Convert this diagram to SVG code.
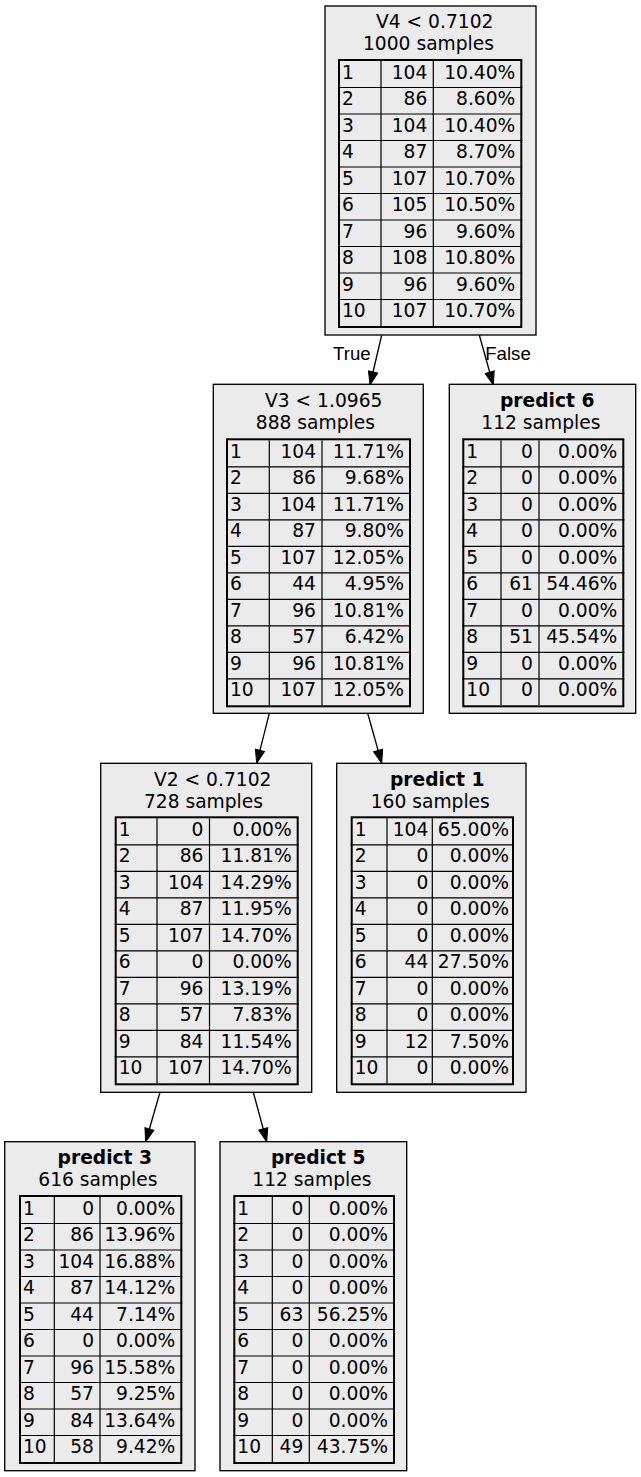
<svg xmlns="http://www.w3.org/2000/svg" width="641" height="1477" viewBox="0 0 641 1477">
<style>
.bg{fill:#ebebeb;stroke:#000;stroke-width:1.33}
.tb{fill:none;stroke:#000;stroke-width:2}
.gl{stroke:#000;stroke-width:1.2}
text{font-family:"DejaVu Sans",sans-serif;font-size:18.67px;fill:#000}
.c{text-anchor:middle}
.r{text-anchor:end}
.b{font-weight:bold}
.el{font-family:"Liberation Sans",Arial,sans-serif}
.e{stroke:#000;stroke-width:1.33;fill:none;marker-end:url(#ah)}
</style>
<defs>
<marker id="ah" markerUnits="userSpaceOnUse" markerWidth="14" markerHeight="10" refX="13.3" refY="4.67" orient="auto" overflow="visible">
<path d="M0,0 L13.3,4.67 L0,9.33 z" fill="#000" stroke="#000" stroke-width="1"/>
</marker>
</defs>
<g id="edges">
<line class="e" x1="381.7" y1="335" x2="370" y2="385"/>
<text class="el" x="333" y="360">True</text>
<line class="e" x1="479.3" y1="335" x2="493.3" y2="385"/>
<text class="el" x="485.2" y="360">False</text>
<line class="e" x1="269.3" y1="713.3" x2="256.7" y2="763.3"/>
<line class="e" x1="367.7" y1="713.3" x2="381.7" y2="763.3"/>
<line class="e" x1="160" y1="1092.3" x2="145.7" y2="1141.7"/>
<line class="e" x1="253.3" y1="1092.3" x2="266.7" y2="1141.7"/>
</g>

<g id="n0">
<rect class="bg" x="325" y="6" width="211" height="329"/>
<text x="376" y="27.8">V4 &lt; 0.7102</text>
<text x="363" y="50.2">1000 samples</text>
<g transform="translate(338,59)">
<rect class="tb" x="1" y="1" width="182.3" height="267"/>
<path class="gl" d="M0,28.5H184.3M0,55H184.3M0,81.5H184.3M0,108H184.3M0,134.5H184.3M0,161H184.3M0,187.5H184.3M0,214H184.3M0,240.5H184.3M43,2V267M95.3,2V267"/>
<g><text x="4" y="19.7">1</text><text class="r" x="89.3" y="19.7">104</text><text class="r" x="177.3" y="19.7">10.40%</text></g>
<g><text x="4" y="46.2">2</text><text class="r" x="89.3" y="46.2">86</text><text class="r" x="177.3" y="46.2">8.60%</text></g>
<g><text x="4" y="72.7">3</text><text class="r" x="89.3" y="72.7">104</text><text class="r" x="177.3" y="72.7">10.40%</text></g>
<g><text x="4" y="99.2">4</text><text class="r" x="89.3" y="99.2">87</text><text class="r" x="177.3" y="99.2">8.70%</text></g>
<g><text x="4" y="125.7">5</text><text class="r" x="89.3" y="125.7">107</text><text class="r" x="177.3" y="125.7">10.70%</text></g>
<g><text x="4" y="152.2">6</text><text class="r" x="89.3" y="152.2">105</text><text class="r" x="177.3" y="152.2">10.50%</text></g>
<g><text x="4" y="178.7">7</text><text class="r" x="89.3" y="178.7">96</text><text class="r" x="177.3" y="178.7">9.60%</text></g>
<g><text x="4" y="205.2">8</text><text class="r" x="89.3" y="205.2">108</text><text class="r" x="177.3" y="205.2">10.80%</text></g>
<g><text x="4" y="231.7">9</text><text class="r" x="89.3" y="231.7">96</text><text class="r" x="177.3" y="231.7">9.60%</text></g>
<g><text x="4" y="258.2">10</text><text class="r" x="89.3" y="258.2">107</text><text class="r" x="177.3" y="258.2">10.70%</text></g>
</g>
</g>

<g id="n1">
<rect class="bg" x="213.3" y="384.3" width="210" height="329"/>
<text x="265" y="406.6">V3 &lt; 1.0965</text>
<text x="255.8" y="428.9">888 samples</text>
<g transform="translate(226,438.3)">
<rect class="tb" x="1" y="1" width="183" height="267"/>
<path class="gl" d="M0,28.5H185M0,55H185M0,81.5H185M0,108H185M0,134.5H185M0,161H185M0,187.5H185M0,214H185M0,240.5H185M43.3,2V267M96,2V267"/>
<g><text x="4" y="19.7">1</text><text class="r" x="90" y="19.7">104</text><text class="r" x="178" y="19.7">11.71%</text></g>
<g><text x="4" y="46.2">2</text><text class="r" x="90" y="46.2">86</text><text class="r" x="178" y="46.2">9.68%</text></g>
<g><text x="4" y="72.7">3</text><text class="r" x="90" y="72.7">104</text><text class="r" x="178" y="72.7">11.71%</text></g>
<g><text x="4" y="99.2">4</text><text class="r" x="90" y="99.2">87</text><text class="r" x="178" y="99.2">9.80%</text></g>
<g><text x="4" y="125.7">5</text><text class="r" x="90" y="125.7">107</text><text class="r" x="178" y="125.7">12.05%</text></g>
<g><text x="4" y="152.2">6</text><text class="r" x="90" y="152.2">44</text><text class="r" x="178" y="152.2">4.95%</text></g>
<g><text x="4" y="178.7">7</text><text class="r" x="90" y="178.7">96</text><text class="r" x="178" y="178.7">10.81%</text></g>
<g><text x="4" y="205.2">8</text><text class="r" x="90" y="205.2">57</text><text class="r" x="178" y="205.2">6.42%</text></g>
<g><text x="4" y="231.7">9</text><text class="r" x="90" y="231.7">96</text><text class="r" x="178" y="231.7">10.81%</text></g>
<g><text x="4" y="258.2">10</text><text class="r" x="90" y="258.2">107</text><text class="r" x="178" y="258.2">12.05%</text></g>
</g>
</g>

<g id="n2">
<rect class="bg" x="449.3" y="384.3" width="186.4" height="329"/>
<text class="b" x="500" y="406.6">predict 6</text>
<text x="481.3" y="428.9">112 samples</text>
<g transform="translate(462.3,438.3)">
<rect class="tb" x="1" y="1" width="160" height="267"/>
<path class="gl" d="M0,28.5H162M0,55H162M0,81.5H162M0,108H162M0,134.5H162M0,161H162M0,187.5H162M0,214H162M0,240.5H162M38.7,2V267M76.7,2V267"/>
<g><text x="4" y="19.7">1</text><text class="r" x="70.7" y="19.7">0</text><text class="r" x="155" y="19.7">0.00%</text></g>
<g><text x="4" y="46.2">2</text><text class="r" x="70.7" y="46.2">0</text><text class="r" x="155" y="46.2">0.00%</text></g>
<g><text x="4" y="72.7">3</text><text class="r" x="70.7" y="72.7">0</text><text class="r" x="155" y="72.7">0.00%</text></g>
<g><text x="4" y="99.2">4</text><text class="r" x="70.7" y="99.2">0</text><text class="r" x="155" y="99.2">0.00%</text></g>
<g><text x="4" y="125.7">5</text><text class="r" x="70.7" y="125.7">0</text><text class="r" x="155" y="125.7">0.00%</text></g>
<g><text x="4" y="152.2">6</text><text class="r" x="70.7" y="152.2">61</text><text class="r" x="155" y="152.2">54.46%</text></g>
<g><text x="4" y="178.7">7</text><text class="r" x="70.7" y="178.7">0</text><text class="r" x="155" y="178.7">0.00%</text></g>
<g><text x="4" y="205.2">8</text><text class="r" x="70.7" y="205.2">51</text><text class="r" x="155" y="205.2">45.54%</text></g>
<g><text x="4" y="231.7">9</text><text class="r" x="70.7" y="231.7">0</text><text class="r" x="155" y="231.7">0.00%</text></g>
<g><text x="4" y="258.2">10</text><text class="r" x="70.7" y="258.2">0</text><text class="r" x="155" y="258.2">0.00%</text></g>
</g>
</g>

<g id="n3">
<rect class="bg" x="100.7" y="763.3" width="211" height="329"/>
<text x="154" y="785.6">V2 &lt; 0.7102</text>
<text x="143.9" y="807.9">728 samples</text>
<g transform="translate(114.7,816.3)">
<rect class="tb" x="1" y="1" width="182" height="267"/>
<path class="gl" d="M0,28.5H184M0,55H184M0,81.5H184M0,108H184M0,134.5H184M0,161H184M0,187.5H184M0,214H184M0,240.5H184M42.3,2V267M94.8,2V267"/>
<g><text x="4" y="19.7">1</text><text class="r" x="88.8" y="19.7">0</text><text class="r" x="177" y="19.7">0.00%</text></g>
<g><text x="4" y="46.2">2</text><text class="r" x="88.8" y="46.2">86</text><text class="r" x="177" y="46.2">11.81%</text></g>
<g><text x="4" y="72.7">3</text><text class="r" x="88.8" y="72.7">104</text><text class="r" x="177" y="72.7">14.29%</text></g>
<g><text x="4" y="99.2">4</text><text class="r" x="88.8" y="99.2">87</text><text class="r" x="177" y="99.2">11.95%</text></g>
<g><text x="4" y="125.7">5</text><text class="r" x="88.8" y="125.7">107</text><text class="r" x="177" y="125.7">14.70%</text></g>
<g><text x="4" y="152.2">6</text><text class="r" x="88.8" y="152.2">0</text><text class="r" x="177" y="152.2">0.00%</text></g>
<g><text x="4" y="178.7">7</text><text class="r" x="88.8" y="178.7">96</text><text class="r" x="177" y="178.7">13.19%</text></g>
<g><text x="4" y="205.2">8</text><text class="r" x="88.8" y="205.2">57</text><text class="r" x="177" y="205.2">7.83%</text></g>
<g><text x="4" y="231.7">9</text><text class="r" x="88.8" y="231.7">84</text><text class="r" x="177" y="231.7">11.54%</text></g>
<g><text x="4" y="258.2">10</text><text class="r" x="88.8" y="258.2">107</text><text class="r" x="177" y="258.2">14.70%</text></g>
</g>
</g>

<g id="n4">
<rect class="bg" x="336.7" y="763.3" width="189.3" height="329"/>
<text class="b" x="390" y="785.6">predict 1</text>
<text x="370.7" y="807.9">160 samples</text>
<g transform="translate(350.7,816.3)">
<rect class="tb" x="1" y="1" width="161.3" height="267"/>
<path class="gl" d="M0,28.5H163.3M0,55H163.3M0,81.5H163.3M0,108H163.3M0,134.5H163.3M0,161H163.3M0,187.5H163.3M0,214H163.3M0,240.5H163.3M36.3,2V267M81.6,2V267"/>
<g><text x="4" y="19.7">1</text><text class="r" x="77.6" y="19.7">104</text><text class="r" x="158.3" y="19.7">65.00%</text></g>
<g><text x="4" y="46.2">2</text><text class="r" x="77.6" y="46.2">0</text><text class="r" x="158.3" y="46.2">0.00%</text></g>
<g><text x="4" y="72.7">3</text><text class="r" x="77.6" y="72.7">0</text><text class="r" x="158.3" y="72.7">0.00%</text></g>
<g><text x="4" y="99.2">4</text><text class="r" x="77.6" y="99.2">0</text><text class="r" x="158.3" y="99.2">0.00%</text></g>
<g><text x="4" y="125.7">5</text><text class="r" x="77.6" y="125.7">0</text><text class="r" x="158.3" y="125.7">0.00%</text></g>
<g><text x="4" y="152.2">6</text><text class="r" x="77.6" y="152.2">44</text><text class="r" x="158.3" y="152.2">27.50%</text></g>
<g><text x="4" y="178.7">7</text><text class="r" x="77.6" y="178.7">0</text><text class="r" x="158.3" y="178.7">0.00%</text></g>
<g><text x="4" y="205.2">8</text><text class="r" x="77.6" y="205.2">0</text><text class="r" x="158.3" y="205.2">0.00%</text></g>
<g><text x="4" y="231.7">9</text><text class="r" x="77.6" y="231.7">12</text><text class="r" x="158.3" y="231.7">7.50%</text></g>
<g><text x="4" y="258.2">10</text><text class="r" x="77.6" y="258.2">0</text><text class="r" x="158.3" y="258.2">0.00%</text></g>
</g>
</g>

<g id="n5">
<rect class="bg" x="4.7" y="1141.7" width="190.3" height="329"/>
<text class="b" x="57.6" y="1164">predict 3</text>
<text x="38.3" y="1186.3">616 samples</text>
<g transform="translate(19,1195)">
<rect class="tb" x="1" y="1" width="161.3" height="267"/>
<path class="gl" d="M0,28.5H163.3M0,55H163.3M0,81.5H163.3M0,108H163.3M0,134.5H163.3M0,161H163.3M0,187.5H163.3M0,214H163.3M0,240.5H163.3M35.3,2V267M81,2V267"/>
<g><text x="4" y="19.7">1</text><text class="r" x="75" y="19.7">0</text><text class="r" x="156.3" y="19.7">0.00%</text></g>
<g><text x="4" y="46.2">2</text><text class="r" x="75" y="46.2">86</text><text class="r" x="156.3" y="46.2">13.96%</text></g>
<g><text x="4" y="72.7">3</text><text class="r" x="75" y="72.7">104</text><text class="r" x="156.3" y="72.7">16.88%</text></g>
<g><text x="4" y="99.2">4</text><text class="r" x="75" y="99.2">87</text><text class="r" x="156.3" y="99.2">14.12%</text></g>
<g><text x="4" y="125.7">5</text><text class="r" x="75" y="125.7">44</text><text class="r" x="156.3" y="125.7">7.14%</text></g>
<g><text x="4" y="152.2">6</text><text class="r" x="75" y="152.2">0</text><text class="r" x="156.3" y="152.2">0.00%</text></g>
<g><text x="4" y="178.7">7</text><text class="r" x="75" y="178.7">96</text><text class="r" x="156.3" y="178.7">15.58%</text></g>
<g><text x="4" y="205.2">8</text><text class="r" x="75" y="205.2">57</text><text class="r" x="156.3" y="205.2">9.25%</text></g>
<g><text x="4" y="231.7">9</text><text class="r" x="75" y="231.7">84</text><text class="r" x="156.3" y="231.7">13.64%</text></g>
<g><text x="4" y="258.2">10</text><text class="r" x="75" y="258.2">58</text><text class="r" x="156.3" y="258.2">9.42%</text></g>
</g>
</g>

<g id="n6">
<rect class="bg" x="220" y="1141.7" width="186.7" height="329"/>
<text class="b" x="271" y="1164">predict 5</text>
<text x="252.3" y="1186.3">112 samples</text>
<g transform="translate(233.3,1195)">
<rect class="tb" x="1" y="1" width="159.7" height="267"/>
<path class="gl" d="M0,28.5H161.7M0,55H161.7M0,81.5H161.7M0,108H161.7M0,134.5H161.7M0,161H161.7M0,187.5H161.7M0,214H161.7M0,240.5H161.7M39,2V267M76,2V267"/>
<g><text x="4" y="19.7">1</text><text class="r" x="70" y="19.7">0</text><text class="r" x="154.7" y="19.7">0.00%</text></g>
<g><text x="4" y="46.2">2</text><text class="r" x="70" y="46.2">0</text><text class="r" x="154.7" y="46.2">0.00%</text></g>
<g><text x="4" y="72.7">3</text><text class="r" x="70" y="72.7">0</text><text class="r" x="154.7" y="72.7">0.00%</text></g>
<g><text x="4" y="99.2">4</text><text class="r" x="70" y="99.2">0</text><text class="r" x="154.7" y="99.2">0.00%</text></g>
<g><text x="4" y="125.7">5</text><text class="r" x="70" y="125.7">63</text><text class="r" x="154.7" y="125.7">56.25%</text></g>
<g><text x="4" y="152.2">6</text><text class="r" x="70" y="152.2">0</text><text class="r" x="154.7" y="152.2">0.00%</text></g>
<g><text x="4" y="178.7">7</text><text class="r" x="70" y="178.7">0</text><text class="r" x="154.7" y="178.7">0.00%</text></g>
<g><text x="4" y="205.2">8</text><text class="r" x="70" y="205.2">0</text><text class="r" x="154.7" y="205.2">0.00%</text></g>
<g><text x="4" y="231.7">9</text><text class="r" x="70" y="231.7">0</text><text class="r" x="154.7" y="231.7">0.00%</text></g>
<g><text x="4" y="258.2">10</text><text class="r" x="70" y="258.2">49</text><text class="r" x="154.7" y="258.2">43.75%</text></g>
</g>
</g>
</svg>
